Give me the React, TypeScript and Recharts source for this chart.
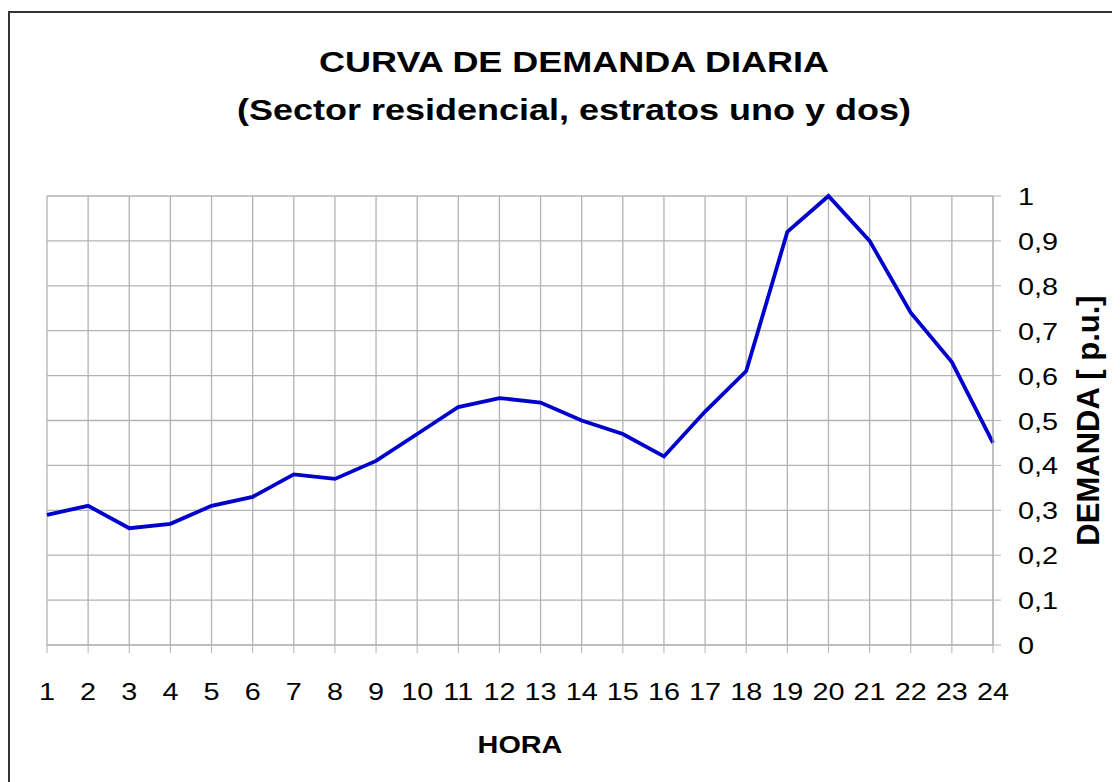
import { LineChart, Line, XAxis, YAxis, CartesianGrid } from "recharts"

// Hourly demand curve (p.u.), residential sector, strata 1 and 2
const horas = ["1", "2", "3", "4", "5", "6", "7", "8", "9", "10", "11", "12", "13", "14", "15", "16", "17", "18", "19", "20", "21", "22", "23", "24"]
const demanda = [0.29, 0.31, 0.26, 0.27, 0.31, 0.33, 0.38, 0.37, 0.41, 0.47, 0.53, 0.55, 0.54, 0.5, 0.47, 0.42, 0.52, 0.61, 0.92, 1.0, 0.9, 0.74, 0.63, 0.45]
const yTicks = [0, 0.1, 0.2, 0.3, 0.4, 0.5, 0.6, 0.7, 0.8, 0.9, 1]

const titulo = "CURVA DE DEMANDA DIARIA"
const subtitulo = "(Sector residencial, estratos uno y dos)"

const data = horas.map((h, i) => ({ hora: h, demanda: demanda[i] }))

const FONT = "Arial, 'Liberation Sans', sans-serif"
const GRID = "#b3b3b3"
// the source picture is stretched horizontally a bit
const SX = 1.2

function XTick({ x, y, payload }) {
  return (
    <text transform={`translate(${x},${y + 45}) scale(${SX},1)`} textAnchor="middle" fontFamily={FONT} fontSize={24} fill="#000">
      {payload.value}
    </text>
  )
}

function YTick({ x, y, payload }) {
  const label = String(payload.value).replace(".", ",")
  return (
    <text transform={`translate(${x + 15},${y + 9}) scale(${SX},1)`} textAnchor="start" fontFamily={FONT} fontSize={24} fill="#000">
      {label}
    </text>
  )
}

export default function App() {
  return (
    <div style={{ position: "relative", width: 1112, height: 774, background: "#fff" }}>
      <div style={{ position: "absolute", left: 0, top: 3, right: 0, bottom: 0, borderTop: "2px solid #333", borderLeft: "2px solid #333" }} />
      <svg width={1112} height={140} style={{ position: "absolute", left: 0, top: 0 }}>
        <text transform={`translate(566,64) scale(${SX},1)`} textAnchor="middle" fontFamily={FONT} fontWeight="bold" fontSize={30} fill="#000">
          {titulo}
        </text>
        <text transform={`translate(566,112) scale(${SX},1)`} textAnchor="middle" fontFamily={FONT} fontWeight="bold" fontSize={30} fill="#000">
          {subtitulo}
        </text>
      </svg>
      <div style={{ position: "absolute", left: 0, top: 0 }}>
        <LineChart width={1112} height={774} data={data} margin={{ top: 188, right: 17, left: 39, bottom: 77 }}>
          <CartesianGrid stroke={GRID} strokeWidth={1.3} />
          <XAxis
            dataKey="hora"
            interval={0}
            tickSize={8}
            stroke={GRID}
            tick={XTick}
            height={60}
            label={({ viewBox }) => (
              <text transform={`translate(${viewBox.x + viewBox.width / 2},745) scale(${SX},1)`} textAnchor="middle" fontFamily={FONT} fontWeight="bold" fontSize={24} fill="#000">
                HORA
              </text>
            )}
          />
          <YAxis
            orientation="right"
            domain={[0, 1]}
            ticks={yTicks}
            interval={0}
            tickSize={8}
            stroke={GRID}
            tick={YTick}
            width={110}
            label={({ viewBox }) => (
              <text
                transform={`translate(1091,${viewBox.y + viewBox.height / 2}) rotate(-90)`}
                textAnchor="middle"
                fontFamily={FONT}
                fontWeight="bold"
                fontSize={31}
                fill="#000"
              >
                DEMANDA [ p.u.]
              </text>
            )}
          />
          <Line type="linear" dataKey="demanda" stroke="#0000cc" strokeWidth={3.8} dot={false} isAnimationActive={false} />
        </LineChart>
      </div>
    </div>
  )
}
